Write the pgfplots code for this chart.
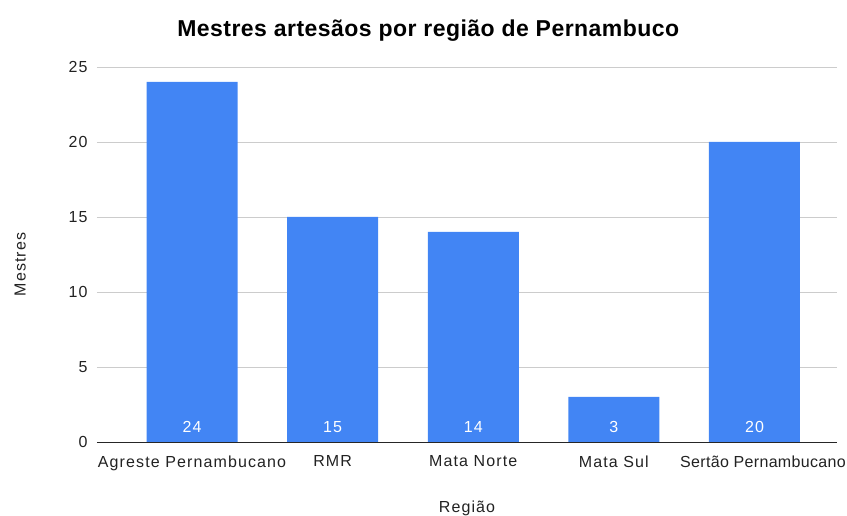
\documentclass[border=0pt]{standalone}
\usepackage{fontspec}
\setmainfont{Liberation Sans}
\newfontfamily\lab{Liberation Sans}[LetterSpace=7]
\newfontfamily\labn{Liberation Sans}[LetterSpace=2]
\newfontfamily\ttl{Liberation Sans}[LetterSpace=2]
\usepackage{pgfplots}
\pgfplotsset{compat=1.18}
\definecolor{barblue}{HTML}{4285F4}
\definecolor{gridgray}{HTML}{CCCCCC}
\definecolor{txt}{HTML}{222222}
\begin{document}
\begin{tikzpicture}[x=1pt,y=1pt]
\path[use as bounding box] (-97,-74) rectangle (750,442);
\begin{axis}[
  at={(0,0)}, anchor=south west,
  scale only axis,
  width=740pt, height=375pt,
  xmin=-0.676, xmax=4.587,
  ymin=0, ymax=25,
  ytick={0,5,...,25},
  xtick=data,
  xticklabels={Agreste Pernambucano, RMR, Mata Norte, Mata Sul, \hspace*{17pt}{\labn Sertão Pernambucano}},
  major tick length=0pt,
  /pgf/number format/assume math mode=true,
  axis x line*=bottom,
  axis y line*=left,
  y axis line style={draw=none},
  x axis line style={draw=black!85, line width=0.9pt, -},
  ymajorgrids,
  grid style={gridgray, line width=0.8pt},
  tick label style={font=\lab\fontsize{16}{19}\selectfont, text=txt},
  yticklabel style={xshift=-6pt},
  xticklabel style={yshift=-10pt},
  title={\textbf{Mestres artesãos por região de Pernambuco}},
  title style={font=\ttl\fontsize{23}{27}\selectfont, at={(0.448,1)}, yshift=16pt},
  xlabel={Região},
  ylabel={Mestres},
  label style={font=\lab\fontsize{16}{19}\selectfont, text=txt},
  xlabel style={yshift=-24pt},
  ylabel style={yshift=36pt, xshift=-10pt},
  nodes near coords,
  visualization depends on={rawy \as \rawy},
  every node near coord/.append style={font=\lab\fontsize{16}{19}\selectfont, text=white, anchor=center, yshift={-\rawy*15pt+15pt}},
]
\addplot[ybar, bar width=91pt, fill=barblue, draw=none] coordinates {
  (0,24) (1,15) (2,14) (3,3) (4,20)
};
\end{axis}
\end{tikzpicture}
\end{document}
